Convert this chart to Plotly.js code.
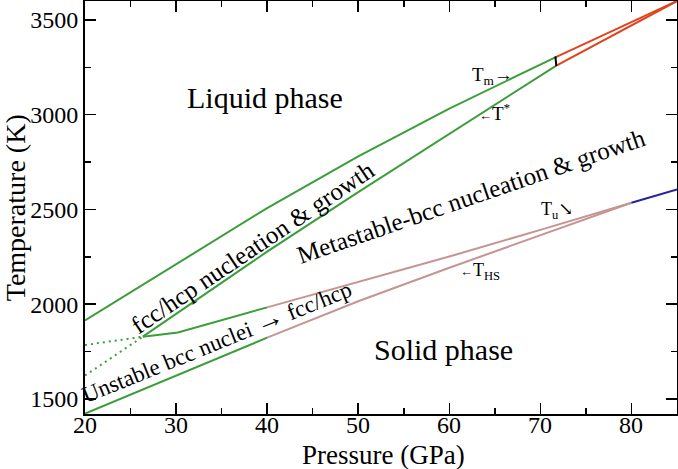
<!DOCTYPE html>
<html>
<head>
<meta charset="utf-8">
<script src="https://cdn.plot.ly/plotly-3.0.1.min.js"></script>
<style>html,body{margin:0;padding:0;background:#fff;}#chart{width:678px;height:469px;}</style>
</head>
<body>
<div id="chart"></div>
<script>
// Pressure (GPa) / Temperature (K) values
const tmGreenP = [20, 40, 50, 60, 71.7];
const tmGreenT = [1914, 2507, 2780, 3032, 3304];
const tmRedP = [71.7, 85];
const tmRedT = [3304, 3600];

const tStarGreenP = [26.35, 30, 40, 50, 60, 71.7];
const tStarGreenT = [1828, 1948, 2277, 2591, 2898, 3258];
const tStarRedP = [71.7, 85];
const tStarRedT = [3258, 3600];

const markerP = [71.65, 71.75];
const markerT = [3308, 3256];

const tuGreenP = [26.35, 30.2, 40];
const tuGreenT = [1828, 1850, 1983];
const tuPinkP = [40, 50, 60, 70, 80];
const tuPinkT = [1983, 2117, 2251, 2392, 2535];

const thsGreenP = [20, 40];
const thsGreenT = [1422, 1823];
const thsPinkP = [40, 50, 60, 70, 80];
const thsPinkT = [1823, 2015, 2192, 2365, 2535];

const blueP = [80, 85];
const blueT = [2535, 2605];

const dotUpperP = [20, 26.35];
const dotUpperT = [1784, 1828];
const dotLowerP = [20, 26.35];
const dotLowerT = [1623, 1828];

const xTicks = [20, 30, 40, 50, 60, 70, 80];
const yTicks = [1500, 2000, 2500, 3000, 3500];

const GREEN = '#3a9e3a', RED = '#e0421c', PINK = '#c69494', BLUE = '#25249c';
const FONT = '"Liberation Serif", "DejaVu Serif", serif';

function line(x, y, color, dash) {
  return {x: x, y: y, type: 'scatter', mode: 'lines', hoverinfo: 'skip',
    line: {color: color, width: 2, dash: dash || 'solid'}};
}

const data = [
  line(dotUpperP, dotUpperT, GREEN, '2px,4px'),
  line(dotLowerP, dotLowerT, GREEN, '2px,4px'),
  line(tmGreenP, tmGreenT, GREEN),
  line(tStarGreenP, tStarGreenT, GREEN),
  line(tuGreenP, tuGreenT, GREEN),
  line(thsGreenP, thsGreenT, GREEN),
  line(tuPinkP, tuPinkT, PINK),
  line(thsPinkP, thsPinkT, PINK),
  line(blueP, blueT, BLUE),
  line(tmRedP, tmRedT, RED),
  line(tStarRedP, tStarRedT, RED),
  line(markerP, markerT, '#000')
];

const xTickLabels = xTicks.map(v => ({x: v, xref: 'x', yref: 'paper', y: -0.027,
  text: String(v), font: {size: 24}}));

const annotations = xTickLabels.concat([
  {x: 39.76, y: 3092, text: 'Liquid phase', font: {size: 30}},
  {x: 59.36, y: 1758, text: 'Solid phase', font: {size: 30}},
  {x: 38.39, y: 2301, text: 'fcc/hcp nucleation &amp; growth', textangle: -34, font: {size: 25}},
  {x: 62.33, y: 2570, text: 'Metastable-bcc nucleation &amp; growth', textangle: -19, font: {size: 25}},
  {x: 34.39, y: 1806, text: 'Unstable bcc nuclei <span style="font-size:28px">→</span> fcc/hcp', textangle: -22, font: {size: 23}},
  {x: 64.74, y: 3203, text: 'T<sub>m</sub>→', font: {size: 19}},
  {x: 65.07, y: 3013, text: '<span style="font-size:13px">←</span>T<sup>*</sup>', font: {size: 19}},
  {x: 71.77, y: 2496, text: 'T<sub>u</sub>↘', font: {size: 18}},
  {x: 63.42, y: 2170, text: '<span style="font-size:13px">←</span>T<sub>HS</sub>', font: {size: 18}},
  {xref: 'paper', yref: 'paper', x: 0.504, y: -0.099, text: 'Pressure (GPa)', font: {size: 27}},
  {xref: 'paper', yref: 'paper', x: -0.117, y: 0.5, text: 'Temperature (K)', textangle: -90, font: {size: 28}}
]).map(a => Object.assign({xref: 'x', yref: 'y', showarrow: false, xanchor: 'center', yanchor: 'middle'}, a,
  {font: Object.assign({family: FONT, color: '#000'}, a.font)}));

const axisCommon = {
  showgrid: false, zeroline: false, showline: true, linecolor: '#000', linewidth: 2,
  mirror: 'ticks', ticks: 'inside', ticklen: 11, tickwidth: 1.5, tickcolor: '#000',
  tickfont: {family: FONT, size: 24, color: '#000'}
};

const layout = {
  width: 678, height: 469,
  margin: {l: 85, r: 1, t: 1, b: 55},
  font: {family: FONT, color: '#000'},
  paper_bgcolor: '#fff', plot_bgcolor: '#fff',
  showlegend: false,
  xaxis: Object.assign({}, axisCommon, {range: [20, 85], tickvals: xTicks, showticklabels: false,
    minor: {dtick: 5, tick0: 20, ticks: 'inside', ticklen: 6, tickwidth: 1.5, tickcolor: '#000'}}),
  yaxis: Object.assign({}, axisCommon, {range: [1420, 3600], tickvals: yTicks, ticktext: yTicks.map(String),
    minor: {dtick: 250, tick0: 1500, ticks: 'inside', ticklen: 6, tickwidth: 1.5, tickcolor: '#000'}}),
  annotations: annotations
};

Plotly.newPlot('chart', data, layout, {staticPlot: true, displayModeBar: false});
</script>
</body>
</html>
